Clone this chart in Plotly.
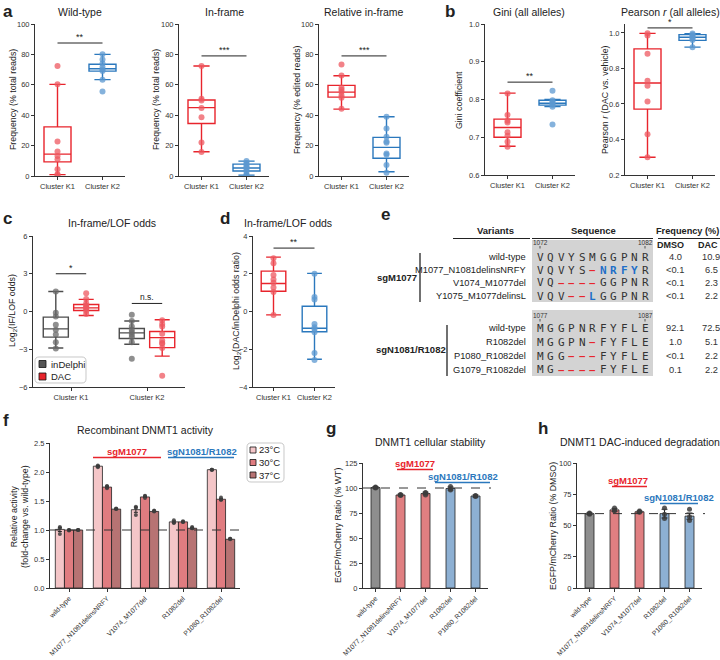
import plotly.graph_objects as go

W, H = 720, 660
FONT = "Liberation Sans, Arial, Helvetica, sans-serif"
MONO = "DejaVu Sans Mono, monospace"
TXT = "#222222"

RED, RED_PT = "#e8242c", "rgba(238,88,96,0.75)"
BLUE, BLUE_PT = "#2b78bd", "rgba(92,152,208,0.75)"
GRAY, GRAY_PT = "#4d4d4d", "rgba(105,105,105,0.75)"

clusters = ["Cluster K1", "Cluster K2"]

# ---------------- panel a ----------------
wt_k1 = [72.4, 60.3, 22.7, 16.1, 13.2, 11.0, 4.4, 1.1, 0.7]
wt_k2 = [80.1, 76.6, 74.0, 71.7, 70.0, 69.0, 63.4, 55.6]
wt_k1_box = [0.9, 9.3, 14.4, 32.3, 60.3]   # low whisker, q1, median, q3, high whisker
wt_k2_box = [63.4, 69.0, 70.6, 73.5, 80.0]
if_k1 = [72.4, 50.8, 49.7, 44.8, 38.6, 22.0, 15.8]
if_k2 = [9.8, 8.6, 7.6, 6.4, 5.4, 4.3, 2.8, 1.0, 0.5]
if_k1_box = [16.0, 34.5, 45.0, 50.0, 72.4]
if_k2_box = [0.6, 3.3, 5.3, 7.8, 9.8]
rif_k1 = [73.3, 66.2, 58.0, 56.7, 55.2, 53.0, 51.4, 44.2]
rif_k2 = [39.0, 31.3, 25.8, 22.7, 21.8, 14.8, 13.9, 7.3, 2.2]
rif_k1_box = [44.0, 51.9, 55.2, 59.6, 66.0]
rif_k2_box = [2.8, 11.7, 18.8, 25.4, 39.0]

# ---------------- panel b ----------------
gini_k1 = [0.816, 0.759, 0.744, 0.739, 0.713, 0.704, 0.688, 0.675]
gini_k2 = [0.823, 0.798, 0.794, 0.790, 0.786, 0.781, 0.734]
gini_k1_box = [0.676, 0.700, 0.726, 0.748, 0.817]
gini_k2_box = [0.781, 0.785, 0.790, 0.798, 0.800]
pear_k1 = [0.998, 0.985, 0.883, 0.731, 0.702, 0.614, 0.430, 0.300]
pear_k2 = [0.996, 0.990, 0.983, 0.975, 0.968, 0.960, 0.919]
pear_k1_box = [0.300, 0.571, 0.718, 0.910, 0.997]
pear_k2_box = [0.920, 0.958, 0.975, 0.990, 0.995]

# ---------------- panel c ----------------
c_series = ["inDelphi", "DAC"]
c_ind_k1 = [1.59, -0.10, -0.40, -1.06, -1.46, -1.83, -2.45, -2.95]
c_ind_k2 = [-0.25, -0.75, -1.20, -1.45, -1.65, -1.85, -2.05, -2.45, -3.75]
c_dac_k1 = [1.46, 1.00, 0.66, 0.48, 0.40, 0.30, 0.21, 0.03, -0.19]
c_dac_k2 = [-0.70, -1.00, -1.20, -1.77, -2.30, -2.50, -2.57, -2.90, -5.10]
c_ind_box = [[-2.90, -2.04, -1.38, -0.45, 1.59], [-2.60, -2.15, -1.70, -1.35, -0.75]]
c_dac_box = [[-0.32, 0.08, 0.29, 0.56, 0.96], [-3.55, -2.87, -2.08, -1.59, -0.66]]

# ---------------- panel d ----------------
d_k1 = [2.82, 2.55, 1.93, 1.70, 1.52, 1.27, 1.03, -0.18]
d_k2 = [2.00, 0.77, 0.64, -0.66, -0.84, -0.93, -1.10, -2.20, -2.57]
d_k1_box = [-0.18, 1.07, 1.48, 2.14, 2.88]
d_k2_box = [-2.53, -1.07, -0.89, 0.28, 2.02]

# ---------------- panel e ----------------
e_groups = ["sgM1077", "sgN1081/R1082"]
e_g1_variants = ["wild-type", "M1077_N1081delinsNRFY", "V1074_M1077del", "Y1075_M1077delinsL"]
e_g1_seqs = ["VQVYSMGGPNR", "VQVYS-NRFYR", "VQ----GGPNR", "VQV--LGGPNR"]
e_g1_dmso = ["4.0", "&lt;0.1", "&lt;0.1", "&lt;0.1"]
e_g1_dac = ["10.9", "6.5", "2.3", "2.2"]
e_g1_pos = ["1072", "1082"]
e_g2_variants = ["wild-type", "R1082del", "P1080_R1082del", "G1079_R1082del"]
e_g2_seqs = ["MGGPNRFYFLE", "MGGPN-FYFLE", "MGG---FYFLE", "MG----FYFLE"]
e_g2_dmso = ["92.1", "1.0", "&lt;0.1", "0.1"]
e_g2_dac = ["72.5", "5.1", "2.2", "2.2"]
e_g2_pos = ["1077", "1087"]

# ---------------- panels f, g, h ----------------
variants = ["wild-type", "M1077_N1081delinsNRFY", "V1074_M1077del", "R1082del", "P1080_R1082del"]
temps = ["23°C", "30°C", "37°C"]
f_means = [[1.01, 2.10, 1.35, 1.14, 2.04],
           [1.00, 1.74, 1.57, 1.14, 1.53],
           [1.00, 1.36, 1.32, 1.03, 0.84]]
f_sems = [[0.035, 0.01, 0.045, 0.015, 0.005],
          [0.005, 0.015, 0.01, 0.005, 0.015],
          [0.005, 0.005, 0.005, 0.01, 0.005]]
f_reps = [[[1.05, 0.93, 1.03], [2.08, 2.10, 2.11], [1.40, 1.38, 1.26], [1.17, 1.13, 1.12], [2.04, 2.04, 2.04]],
          [[1.00, 1.00, 0.99], [1.72, 1.75, 1.76], [1.58, 1.59, 1.55], [1.15, 1.14, 1.14], [1.56, 1.52, 1.52]],
          [[1.00, 1.00, 1.00], [1.36, 1.37, 1.36], [1.33, 1.32, 1.33], [1.05, 1.03, 1.03], [0.85, 0.85, 0.84]]]
g_means = [100.5, 93.0, 94.5, 99.5, 92.0]
g_sems = [1.0, 0.8, 1.3, 1.5, 1.0]
g_reps = [[101.0, 100.0, 100.5], [93.0, 92.5, 93.5], [95.5, 93.0, 95.0], [101.5, 98.0, 99.0], [92.0, 91.5, 92.5]]
h_means = [59.5, 62.5, 61.0, 59.5, 57.5]
h_sems = [0.7, 1.2, 0.5, 3.5, 2.5]
h_reps = [[59.0, 60.0, 59.5], [62.0, 64.0, 62.0], [61.0, 61.5, 60.5], [64.0, 59.0, 55.5], [63.0, 57.0, 54.0]]

# ---------------- styles ----------------
TEMP_COLORS = ["#f4c6c8", "#e07c80", "#b77373"]
BAR_COLORS = ["#8e8e8e", "#e07f81", "#e07f81", "#8db0d3", "#8db0d3"]


def PX(x):
    return x / W


def PY(y):
    return 1 - y / H


fig = go.Figure()
annotations = []
shapes = []


def text(x, y, s, size=9.0, color=TXT, xanchor="center", yanchor="middle", family=FONT, angle=0):
    annotations.append(dict(x=PX(x), y=PY(y), xref="paper", yref="paper", text=s, showarrow=False,
                            font=dict(size=size, color=color, family=family), xanchor=xanchor,
                            yanchor=yanchor, textangle=angle, borderpad=0))


def pline(x0, y0, x1, y1, color=TXT, width=1.0, dash="solid"):
    shapes.append(dict(type="line", xref="paper", yref="paper", x0=PX(x0), x1=PX(x1), y0=PY(y0), y1=PY(y1),
                       line=dict(color=color, width=width, dash=dash)))


def prect(x0, y0, x1, y1, fill, line_color="#111", lw=0.8):
    shapes.append(dict(type="rect", xref="paper", yref="paper", x0=PX(x0), x1=PX(x1), y0=PY(y1), y1=PY(y0),
                       fillcolor=fill, line=dict(color=line_color, width=lw)))


def round_box(x0, y0, x1, y1, r=4):
    xa, xb, ya, yb = PX(x0), PX(x1), PY(y0), PY(y1)
    rx, ry = r / W, r / H
    path = ("M %f %f L %f %f Q %f %f %f %f L %f %f Q %f %f %f %f L %f %f Q %f %f %f %f L %f %f Q %f %f %f %f Z"
            % (xa + rx, ya, xb - rx, ya, xb, ya, xb, ya - ry, xb, yb + ry, xb, yb, xb - rx, yb,
               xa + rx, yb, xa, yb, xa, yb + ry, xa, ya - ry, xa, ya, xa + rx, ya))
    shapes.append(dict(type="path", xref="paper", yref="paper", path=path, fillcolor="white",
                       line=dict(color="#c8c8c8", width=1)))


def add_box(ax, xs, stats, color, width=0.6, whisker=0.6):
    fig.add_trace(go.Box(x=xs, lowerfence=[s[0] for s in stats], q1=[s[1] for s in stats],
                         median=[s[2] for s in stats], q3=[s[3] for s in stats],
                         upperfence=[s[4] for s in stats], xaxis="x" + ax, yaxis="y" + ax,
                         line=dict(color=color, width=1.4), fillcolor="rgba(255,255,255,0)",
                         width=width, whiskerwidth=whisker, showlegend=False, hoverinfo="skip"))


def add_pts(ax, x, ys, color, size=6):
    fig.add_trace(go.Scatter(x=[x] * len(ys), y=ys, mode="markers", xaxis="x" + ax, yaxis="y" + ax,
                             marker=dict(size=size, color=color), showlegend=False, hoverinfo="skip"))


def sig(ax, x0, x1, y, label, size=9):
    shapes.append(dict(type="line", xref="x" + ax, yref="y" + ax, x0=x0, x1=x1, y0=y, y1=y,
                       line=dict(color=TXT, width=1)))
    annotations.append(dict(x=(x0 + x1) / 2, y=y, xref="x" + ax, yref="y" + ax, text=label,
                            showarrow=False, yanchor="bottom", font=dict(size=size, color=TXT),
                            yshift=-1))


# ---- two-cluster box panels (a, b, d)
two_cluster = [
    ("1", wt_k1, wt_k2, wt_k1_box, wt_k2_box),
    ("2", if_k1, if_k2, if_k1_box, if_k2_box),
    ("3", rif_k1, rif_k2, rif_k1_box, rif_k2_box),
    ("4", gini_k1, gini_k2, gini_k1_box, gini_k2_box),
    ("5", pear_k1, pear_k2, pear_k1_box, pear_k2_box),
    ("7", d_k1, d_k2, d_k1_box, d_k2_box),
]
for ax, p1, p2, b1, b2 in two_cluster:
    add_box(ax, [clusters[0]], [b1], RED)
    add_box(ax, [clusters[1]], [b2], BLUE)
    add_pts(ax, clusters[0], p1, RED_PT)
    add_pts(ax, clusters[1], p2, BLUE_PT)

# ---- panel c (grouped)
C_OFF = 0.2
add_box("6", [i - C_OFF for i in range(2)], c_ind_box, GRAY, width=0.33)
add_box("6", [i + C_OFF for i in range(2)], c_dac_box, RED, width=0.33)
for i, pts in enumerate([c_ind_k1, c_ind_k2]):
    add_pts("6", i - C_OFF, pts, GRAY_PT)
for i, pts in enumerate([c_dac_k1, c_dac_k2]):
    add_pts("6", i + C_OFF, pts, RED_PT)

# ---- panel f
BW = 0.24
for t in range(3):
    off = -1.5 * BW + t * BW
    fig.add_trace(go.Bar(x=list(range(len(variants))), y=f_means[t], offset=off, width=BW, name=temps[t],
                         xaxis="x8", yaxis="y8", showlegend=False,
                         marker=dict(color=TEMP_COLORS[t], line=dict(color="#222", width=0.8)),
                         error_y=dict(type="data", array=f_sems[t], color="#222", thickness=1, width=2)))
    xs, ys = [], []
    for j in range(len(variants)):
        for v in f_reps[t][j]:
            xs.append(j + off + BW / 2)
            ys.append(v)
    fig.add_trace(go.Scatter(x=xs, y=ys, mode="markers", xaxis="x8", yaxis="y8", showlegend=False,
                             marker=dict(size=4, color="rgba(60,60,60,0.85)"), hoverinfo="skip"))

# ---- panels g, h
for ax, means, sems, reps in [("9", g_means, g_sems, g_reps), ("10", h_means, h_sems, h_reps)]:
    fig.add_trace(go.Bar(x=list(range(len(variants))), y=means, width=0.36, xaxis="x" + ax, yaxis="y" + ax,
                         showlegend=False, marker=dict(color=BAR_COLORS, line=dict(color="#222", width=0.8)),
                         error_y=dict(type="data", array=sems, color="#222", thickness=1, width=3)))
    xs, ys = [], []
    for j, r in enumerate(reps):
        for v in r:
            xs.append(j)
            ys.append(v)
    fig.add_trace(go.Scatter(x=xs, y=ys, mode="markers", xaxis="x" + ax, yaxis="y" + ax, showlegend=False,
                             marker=dict(size=5, color="rgba(60,60,60,0.85)"), hoverinfo="skip"))

# ---------------- axes ----------------
TICKF = dict(size=7.5, color="#333", family=FONT)


def base_axis():
    return dict(showline=True, linecolor="#333", linewidth=1, ticks="outside", ticklen=3, tickwidth=1,
                tickcolor="#333", tickfont=TICKF, showgrid=False, zeroline=False, fixedrange=True,
                automargin=False)


axes_spec = {
    # ax: (x0, x1, ytop, ybottom, yrange, tickvals, tickformat)
    "1": (35, 125, 24, 176, [0, 100], [0, 20, 40, 60, 80, 100], None),
    "2": (179, 269, 24, 176, [0, 100], [0, 20, 40, 60, 80, 100], None),
    "3": (319, 409, 24, 176, [0, 100], [0, 20, 40, 60, 80, 100], None),
    "4": (485, 575, 24, 175, [0.6, 1.0], [0.6, 0.7, 0.8, 0.9, 1.0], ".1f"),
    "5": (625, 715, 24, 175, [0.2, 1.05], [0.2, 0.4, 0.6, 0.8, 1.0], ".1f"),
    "6": (33, 185, 236, 387, [-6, 6], [-6, -3, 0, 3, 6], None),
    "7": (253, 335, 236, 387, [-4, 4], [-4, -2, 0, 2, 4], None),
    "8": (50, 240, 443, 588, [0, 2.5], [0, 0.5, 1.0, 1.5, 2.0, 2.5], ".1f"),
    "9": (363, 488, 463, 588, [0, 125], [0, 25, 50, 75, 100, 125], None),
    "10": (577, 702, 463, 588, [0, 100], [0, 25, 50, 75, 100], None),
}
lay = {}
for ax, (x0, x1, yt, yb, yr, tv, tf) in axes_spec.items():
    xk = "xaxis" if ax == "1" else "xaxis" + ax
    yk = "yaxis" if ax == "1" else "yaxis" + ax
    xa = base_axis()
    xa.update(domain=[PX(x0), PX(x1)], anchor="y" + ax if ax != "1" else "y")
    if ax in ("1", "2", "3", "4", "5", "7"):
        xa.update(type="category", categoryorder="array", categoryarray=clusters, range=[-0.5, 1.5])
    elif ax == "6":
        xa.update(range=[-0.5, 1.5], tickvals=[0, 1], ticktext=clusters)
    else:
        xa.update(range=[-0.5, len(variants) - 0.5], tickvals=list(range(len(variants))), ticktext=variants,
                  tickangle=-45, tickfont=dict(size=6.8, color="#333", family=FONT))
    ya = base_axis()
    ya.update(domain=[PY(yb), PY(yt)], anchor="x" + ax if ax != "1" else "x", range=yr, tickvals=tv)
    if tf:
        ya.update(tickformat=tf)
    lay[xk] = xa
    lay[yk] = ya

# ---------------- significance marks ----------------
sig("1", 0, 1, 87.5, "**")
sig("2", 0, 1, 79, "***")
sig("3", 0, 1, 79, "***")
sig("4", 0, 1, 0.846, "**")
sig("5", 0, 1, 1.028, "*")
sig("6", -C_OFF, C_OFF, 3.0, "*")
sig("6", 1 - C_OFF, 1 + C_OFF, 0.64, "n.s.", size=8.5)
sig("7", 0, 1, 3.36, "**")

# reference dashed lines
shapes.append(dict(type="line", xref="paper", yref="y8", x0=PX(50), x1=PX(244), y0=f_means[1][0], y1=f_means[1][0],
                   line=dict(color="#333", width=1, dash="dash")))
shapes.append(dict(type="line", xref="paper", yref="y9", x0=PX(363), x1=PX(491), y0=100, y1=100,
                   line=dict(color="#333", width=1, dash="dash")))
shapes.append(dict(type="line", xref="paper", yref="y10", x0=PX(577), x1=PX(705), y0=h_means[0], y1=h_means[0],
                   line=dict(color="#333", width=1, dash="dash")))

# ---------------- legends (drawn) ----------------
round_box(35, 357, 86, 383)
for k, (nm, col) in enumerate(zip(c_series, ["#555555", RED])):
    yc = 364 + 12.5 * k
    prect(39, yc - 3.5, 46, yc + 3.5, col)
    text(50, yc, nm, 9.5, xanchor="left")
round_box(247, 443, 284, 482)
for k, (nm, col) in enumerate(zip(temps, TEMP_COLORS)):
    yc = 450 + 12.5 * k
    prect(250, yc - 3, 256, yc + 3, col)
    text(258, yc, nm, 9.5, xanchor="left")

# ---------------- titles & labels ----------------
for lab, x, y in [("a", 2, 11), ("b", 444, 11), ("c", 2, 218), ("d", 219, 218), ("e", 380, 215),
                  ("f", 2, 420), ("g", 325, 428), ("h", 537, 428)]:
    text(x, y, "<b>%s</b>" % lab, size=17, xanchor="left")

TS = 10.5
text(80, 12, "Wild-type", TS)
text(224, 12, "In-frame", TS)
text(364, 12, "Relative in-frame", TS)
text(529, 12, "Gini (all alleles)", TS)
text(670, 12, "Pearson <i>r</i> (all alleles)", TS)
text(112, 223, "In-frame/LOF odds", TS)
text(288, 223, "In-frame/LOF odds", TS)
text(145, 430, "Recombinant DNMT1 activity", TS)
text(430, 442, "DNMT1 cellular stability", TS)
text(640, 442, "DNMT1 DAC-induced degradation", TS)

YS = 8.8
text(13, 100, "Frequency (% total reads)", YS, angle=-90)
text(156, 100, "Frequency (% total reads)", YS, angle=-90)
text(297, 100, "Frequency (% edited reads)", YS, angle=-90)
text(459, 100, "Gini coefficient", YS, angle=-90)
text(605, 100, "Pearson <i>r</i> (DAC vs. vehicle)", YS, angle=-90)
text(12, 311, "Log<sub>2</sub>(IF/LOF odds)", YS, angle=-90)
text(236, 311, "Log<sub>2</sub>(DAC/inDelphi odds ratio)", YS, angle=-90)
text(19, 517, "Relative activity<br>(fold-change vs. wild-type)", YS, angle=-90)
text(338, 526, "EGFP/mCherry Ratio (% WT)", YS, angle=-90)
text(553, 526, "EGFP/mCherry Ratio (% DMSO)", YS, angle=-90)

# group labels on f, g, h
GS = 9.5
for (cx, cy, ux0, ux1), grp, col in [
    ((127, 451, 93, 161), e_groups[0], RED), ((202, 451, 168, 234), e_groups[1], BLUE),
    ((415, 463, 397, 433), e_groups[0], RED), ((463, 476, 435, 490), e_groups[1], BLUE),
    ((628, 480, 612, 647), e_groups[0], RED), ((679, 497, 660, 698), e_groups[1], BLUE)]:
    text(cx, cy, "<b>%s</b>" % grp, GS, color=col)
    pline(ux0, cy + 6.5, ux1, cy + 6.5, color=col, width=1.5)

# ---------------- panel e table ----------------
HS = 9.5
text(495, 231, "<b>Variants</b>", HS)
text(593, 231, "<b>Sequence</b>", HS)
text(687, 231, "<b>Frequency (%)</b>", 9.2)
pline(453, 238.5, 530, 238.5, width=1)
pline(532, 238.5, 653, 238.5, width=1)
pline(658, 238.5, 720, 238.5, width=1)
text(670, 244.5, "<b>DMSO</b>", 9)
text(708, 244.5, "<b>DAC</b>", 9)

SEQ_X0, SEQ_DX = 540, 10.5
groups_e = [
    (e_g1_variants, e_g1_seqs, e_g1_dmso, e_g1_dac, e_g1_pos, [257, 270, 283, 296], 240, 302, 243, 420, 253, 302),
    (e_g2_variants, e_g2_seqs, e_g2_dmso, e_g2_dac, e_g2_pos, [328, 342, 356, 370], 310, 376, 316, 447, 325, 376),
]
for gi, (names, seqs, dm, dc, pos, rows, gy0, gy1, posy, vx, vy0, vy1) in enumerate(groups_e):
    shapes.append(dict(type="rect", xref="paper", yref="paper", x0=PX(532), x1=PX(653), y0=PY(gy1), y1=PY(gy0),
                       fillcolor="#d3d3d3", line=dict(width=0), layer="below"))
    n = len(seqs[0])
    for k, p in enumerate(pos):
        px_ = SEQ_X0 + (0 if k == 0 else (n - 1) * SEQ_DX)
        text(px_, posy - 1, p, 6.5, color="#333")
        pline(px_, posy + 3, px_, posy + 5.5, color="#333", width=0.8)
    wt = seqs[0]
    for r, (nm, sq, a, b) in enumerate(zip(names, seqs, dm, dc)):
        y = rows[r]
        text(527, y, nm, 9.3, xanchor="right")
        for i, ch in enumerate(sq):
            x = SEQ_X0 + i * SEQ_DX
            if ch == "-":
                text(x, y, "<b>–</b>", 11.5, color=RED, family=FONT)
            elif ch != wt[i]:
                text(x, y, "<b>%s</b>" % ch, 11, color="#1f6fc8", family=MONO)
            else:
                text(x, y, ch, 11, color="#333", family=MONO)
        text(675, y, a, 9.3, color="#333")
        text(711, y, b, 9.3, color="#333")
    pline(vx, vy0, vx, vy1, color="#111", width=1.2)
text(397, 277, "<b>%s</b>" % e_groups[0], 9.5)
text(411, 349, "<b>%s</b>" % e_groups[1], 9.5)

fig.update_layout(
    template="none",
    width=W, height=H, margin=dict(l=0, r=0, t=0, b=0, autoexpand=False), paper_bgcolor="white",
    plot_bgcolor="white", font=dict(family=FONT, color=TXT), boxmode="overlay", showlegend=False,
    annotations=annotations, shapes=shapes, **lay)

fig.write_html("out.html", config={"displayModeBar": False},
               post_script="document.body.style.margin='0px';document.body.style.padding='0px';")
